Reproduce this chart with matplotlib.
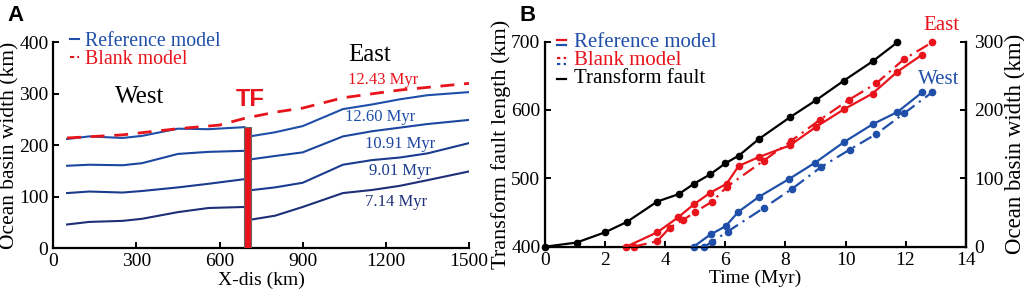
import numpy as np
import matplotlib.pyplot as plt
from matplotlib.lines import Line2D

plt.rcParams['font.family'] = ['Liberation Serif', 'DejaVu Serif']

# ---- panel A data: basin width vs distance ----
west_x = [50, 130, 250, 320, 450, 560, 690]
east_x = [720, 800, 900, 1045, 1150, 1250, 1350, 1500]
ages = ['12.60 Myr', '10.91 Myr', '9.01 Myr', '7.14 Myr']
west_w = [
    [212, 217, 214, 218, 232, 231, 235],
    [160, 162, 161, 165, 183, 187, 189],
    [107, 110, 108, 111, 118, 125, 134],
    [46, 51, 53, 57, 70, 78, 80],
]
east_w = [
    [218, 225, 237, 270, 279, 289, 297, 303],
    [173, 179, 186, 217, 227, 234, 241, 249],
    [113, 118, 127, 162, 171, 176, 184, 204],
    [56, 63, 80, 107, 113, 121, 132, 149],
]
blank_x = [50, 250, 450, 600, 690, 800, 900, 1045, 1250, 1500]
blank_w = [214, 220, 232, 239, 252, 264, 272, 292, 307, 320]
blank_age = '12.43 Myr'
tf_x = 700
tf_h = 235

# ---- panel B data: growth with time ----
tf_t = [0, 1.04, 1.99, 2.71, 3.73, 4.45, 4.95, 5.5, 6.0, 6.44, 7.13, 8.14, 9.01, 9.95, 10.9, 11.73]
tf_len = [400, 406, 421, 436, 466, 477, 492, 506, 522, 533, 558, 589, 614, 643, 671, 699]
ref_east_t = [2.7, 3.73, 4.43, 4.95, 5.5, 6.04, 6.44, 7.11, 8.14, 9.01, 9.95, 10.9, 11.73, 12.56]
ref_east_w = [0, 21, 43, 62, 79, 92, 118, 131, 148, 175, 201, 224, 256, 281]
blk_east_t = [2.94, 3.73, 4.15, 4.59, 5.0, 5.56, 6.06, 7.28, 8.2, 9.16, 10.12, 11.03, 11.94, 12.89]
blk_east_w = [0, 8, 28, 39, 51, 66, 88, 126, 155, 186, 215, 239, 274, 299]
ref_west_t = [4.94, 5.51, 6.01, 6.43, 7.12, 8.12, 8.99, 9.95, 10.9, 11.73, 12.56]
ref_west_w = [0, 18, 30, 51, 73, 99, 123, 153, 179, 197, 226]
blk_west_t = [5.3, 5.55, 6.07, 7.29, 8.23, 9.17, 10.14, 11.03, 11.95, 12.89]
blk_west_w = [0, 7, 22, 57, 85, 116, 142, 165, 195, 226]

RED = '#e8141c'
BLUE = '#1f4fa8'
blues = ['#1f4fa8', '#1c46a0', '#1b3b8e', '#1d2f78']

fig = plt.figure(figsize=(10.24, 2.99), dpi=100)

# ================= panel A =================
ax = fig.add_axes([0.052, 0.170, 0.406, 0.689])
for i in range(len(ages)):
    ax.plot(west_x, west_w[i], color=blues[i], lw=1.5)
    ax.plot(east_x, east_w[i], color=blues[i], lw=1.5)
ax.plot(blank_x, blank_w, color=RED, lw=2.0, dashes=(5, 3.5))
ax.bar(tf_x, tf_h, width=26, color=RED, edgecolor='#666666', linewidth=0.8, zorder=3)

ax.set_xlim(0, 1500)
ax.set_ylim(0, 400)
ax.set_xticks(np.arange(0, 1501, 300))
ax.set_yticks(np.arange(0, 401, 100))
ax.spines['top'].set_visible(False)
ax.spines['right'].set_visible(False)
for s in ['left', 'bottom']:
    ax.spines[s].set_linewidth(1.6)
ax.tick_params(direction='in', length=4, width=1.4, labelsize=14)
ax.set_xlabel('X-dis (km)', fontsize=14, labelpad=1)
ax.set_ylabel('Ocean basin width (km)', fontsize=15.5, labelpad=0)

ax.text(312, 293, 'West', fontsize=18, ha='center', va='center')
ax.text(1142, 375, 'East', fontsize=18, ha='center', va='center')
ax.text(709, 288, 'TF', fontsize=17, ha='center', va='center', color=RED,
        fontweight='bold', family=['Liberation Sans', 'DejaVu Sans'])
ax.text(1190, 327, blank_age, fontsize=12, color=RED, ha='center', va='center')
lab_pos = [(1178, 255), (1250, 202), (1250, 149), (1237, 90)]
for i, (lx, ly) in enumerate(lab_pos):
    ax.text(lx, ly, ages[i], fontsize=12, color=blues[i], ha='center', va='center')

h1 = Line2D([], [], color=BLUE, lw=1.5)
h2 = Line2D([], [], color=RED, lw=1.5, dashes=(2, 1.5))
leg = ax.legend([h1, h2], ['Reference model', 'Blank model'], loc='upper left',
                bbox_to_anchor=(0.02, 1.09), frameon=False, fontsize=14.3,
                handlelength=0.5, handletextpad=0.3, labelspacing=-0.05,
                borderaxespad=0)
for t, c in zip(leg.get_texts(), [BLUE, RED]):
    t.set_color(c)

fig.text(0.007, 0.93, 'A', fontsize=16, fontweight='bold',
         family=['Liberation Sans', 'DejaVu Sans'])

# ================= panel B =================
bx = fig.add_axes([0.5325, 0.175, 0.4105, 0.686])
bx.plot(tf_t, tf_len, color='black', lw=1.6, marker='o', ms=4.5, clip_on=False)
bx.set_xlim(0, 14)
bx.set_ylim(400, 700)
bx.set_xticks(np.arange(0, 15, 2))
bx.set_yticks(np.arange(400, 701, 100))
bx.spines['top'].set_visible(False)
for s in ['left', 'bottom', 'right']:
    bx.spines[s].set_linewidth(1.6)
bx.tick_params(direction='in', length=4, width=1.4, labelsize=14)
bx.set_xlabel('Time (Myr)', fontsize=14, labelpad=1)
bx.set_ylabel('Transform fault length (km)', fontsize=16, labelpad=0)

rx = bx.twinx()
kw = dict(lw=1.6, marker='o', ms=4.5, clip_on=False)
rx.plot(ref_east_t, ref_east_w, color=RED, **kw)
rx.plot(blk_east_t, blk_east_w, color=RED, dashes=(6, 2.5, 1, 2.5), **kw)
rx.plot(ref_west_t, ref_west_w, color=BLUE, **kw)
rx.plot(blk_west_t, blk_west_w, color=BLUE, dashes=(6, 2.5, 1, 2.5), **kw)
rx.set_ylim(0, 300)
rx.set_yticks(np.arange(0, 301, 100))
rx.spines['top'].set_visible(False)
rx.spines['right'].set_linewidth(1.6)
rx.tick_params(direction='in', length=4, width=1.4, labelsize=14, pad=6)
rx.set_ylabel('Ocean basin width (km)', fontsize=16.5, labelpad=1)
rx.text(13.2, 324, 'East', color=RED, fontsize=15, ha='center', va='center', clip_on=False)
rx.text(13.12, 245, 'West', color=BLUE, fontsize=15, ha='center', va='center')

# legend with stacked double handles
rows = [('Reference model', BLUE, [RED, BLUE], '-'),
        ('Blank model', RED, [RED, BLUE], ':'),
        ('Transform fault', 'black', ['black'], '-')]
y0 = 0.995
for k, (lab, tc, hcols, ls) in enumerate(rows):
    yy = y0 - k * 0.088
    if len(hcols) == 2:
        offs = [0.014, -0.014]
    else:
        offs = [0.0]
    for c, o in zip(hcols, offs):
        if ls == '-':
            bx.plot([0.028, 0.05], [yy + o, yy + o], color=c, lw=1.6,
                    transform=bx.transAxes, clip_on=False)
        else:
            bx.plot([0.028, 0.05], [yy + o, yy + o], color=c, lw=1.6,
                    dashes=(1.5, 1.5), transform=bx.transAxes, clip_on=False)
    bx.text(0.068, yy, lab, color=tc, fontsize=15, ha='left', va='center',
            transform=bx.transAxes)

fig.text(0.507, 0.93, 'B', fontsize=16, fontweight='bold',
         family=['Liberation Sans', 'DejaVu Sans'])

fig.savefig('out.png', dpi=100)
